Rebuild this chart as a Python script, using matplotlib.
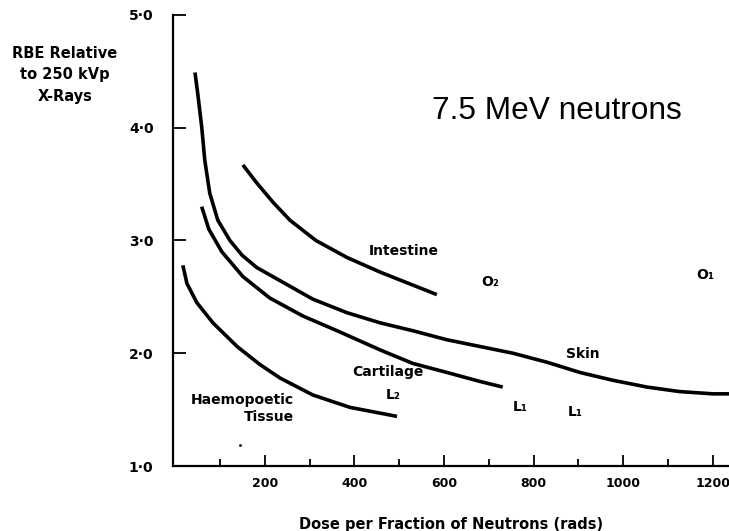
import matplotlib
matplotlib.use("Agg")
from matplotlib import pyplot as plt

# kurvelerin okunan degerleri (doz rad, RBE)
haemo_x = [17, 26, 48, 84, 138, 189, 234, 307, 390, 495]
haemo_y = [2.78, 2.62, 2.45, 2.27, 2.06, 1.90, 1.78, 1.63, 1.52, 1.44]

cartilage_x = [59, 75, 104, 151, 211, 285, 361, 457, 530, 606, 680, 731]
cartilage_y = [3.30, 3.10, 2.90, 2.68, 2.49, 2.33, 2.20, 2.03, 1.91, 1.83, 1.75, 1.70]

skin_x = [44, 50, 59, 66, 77, 95, 122, 149, 182, 249, 307, 383, 457, 530,
          606, 680, 754, 830, 903, 977, 1053, 1126, 1200, 1236]
skin_y = [4.49, 4.31, 4.01, 3.71, 3.42, 3.18, 3.00, 2.87, 2.76, 2.61, 2.48,
          2.36, 2.27, 2.20, 2.12, 2.06, 2.00, 1.92, 1.83, 1.76, 1.70, 1.66,
          1.64, 1.64]

intestine_x = [151, 182, 218, 256, 314, 383, 457, 584]
intestine_y = [3.67, 3.51, 3.34, 3.18, 3.00, 2.85, 2.72, 2.52]

# eksen etiketleri
xticks = [200, 400, 600, 800, 1000, 1200]
xminor = [100, 300, 500, 700, 900, 1100]
yticks = [1, 2, 3, 4, 5]
ytick_labels = ["1·0", "2·0", "3·0", "4·0", "5·0"]

# grafik icindeki yazilar
notes = [("Intestine", 510, 2.91), ("O₂", 702, 2.63), ("O₁", 1182, 2.69),
         ("Skin", 910, 1.99), ("Cartilage", 474, 1.83), ("L₂", 486, 1.63),
         ("L₁", 769, 1.52), ("L₁", 892, 1.48)]

fig = plt.figure(figsize=(7.29, 5.31), dpi=100)
ax = fig.add_axes([173 / 729, 0.1224, 1 - 173 / 729, 0.8494])

for xs, ys in [(haemo_x, haemo_y), (cartilage_x, cartilage_y),
               (skin_x, skin_y), (intestine_x, intestine_y)]:
    ax.plot(xs, ys, color="black", lw=2.6, solid_capstyle="butt",
            solid_joinstyle="round")

for txt, x, y in notes:
    ax.text(x, y, txt, ha="center", va="center", fontsize=10, fontweight="bold")
ax.text(265, 1.51, "Haemopoetic\nTissue", ha="right", va="center",
        fontsize=10, fontweight="bold", linespacing=1.3)
ax.plot([144], [1.19], "k.", ms=2)

ax.set_xlim(-5, 1236)
ax.set_ylim(1, 5)
ax.spines["top"].set_visible(False)
ax.spines["right"].set_visible(False)
ax.spines["left"].set_linewidth(1.6)
ax.spines["bottom"].set_linewidth(1.6)

ax.set_xticks(xticks)
ax.set_xticks(xminor, minor=True)
ax.set_yticks(yticks)
ax.set_yticklabels(ytick_labels)
ax.tick_params(axis="x", which="major", direction="in", length=8, width=1.3,
               pad=8, labelsize=9)
ax.tick_params(axis="x", which="minor", direction="in", length=5, width=1.3)
ax.tick_params(axis="y", direction="in", length=9, width=1.3, pad=14,
               labelsize=10)
for lbl in ax.get_xticklabels() + ax.get_yticklabels():
    lbl.set_fontweight("bold")

ax.set_xlabel("Dose per Fraction of Neutrons (rads)", fontsize=10.5,
              fontweight="bold", labelpad=19)
fig.text(65 / 729, 1 - 75 / 531, "RBE Relative\nto 250 kVp\nX-Rays",
         ha="center", va="center", fontsize=10.5, fontweight="bold",
         linespacing=1.5)

fig.text(432 / 729, 1 - 119 / 531, "7.5 MeV neutrons", fontsize=22.8,
         family="Liberation Sans", va="baseline")

fig.savefig("out.png", dpi=100)
